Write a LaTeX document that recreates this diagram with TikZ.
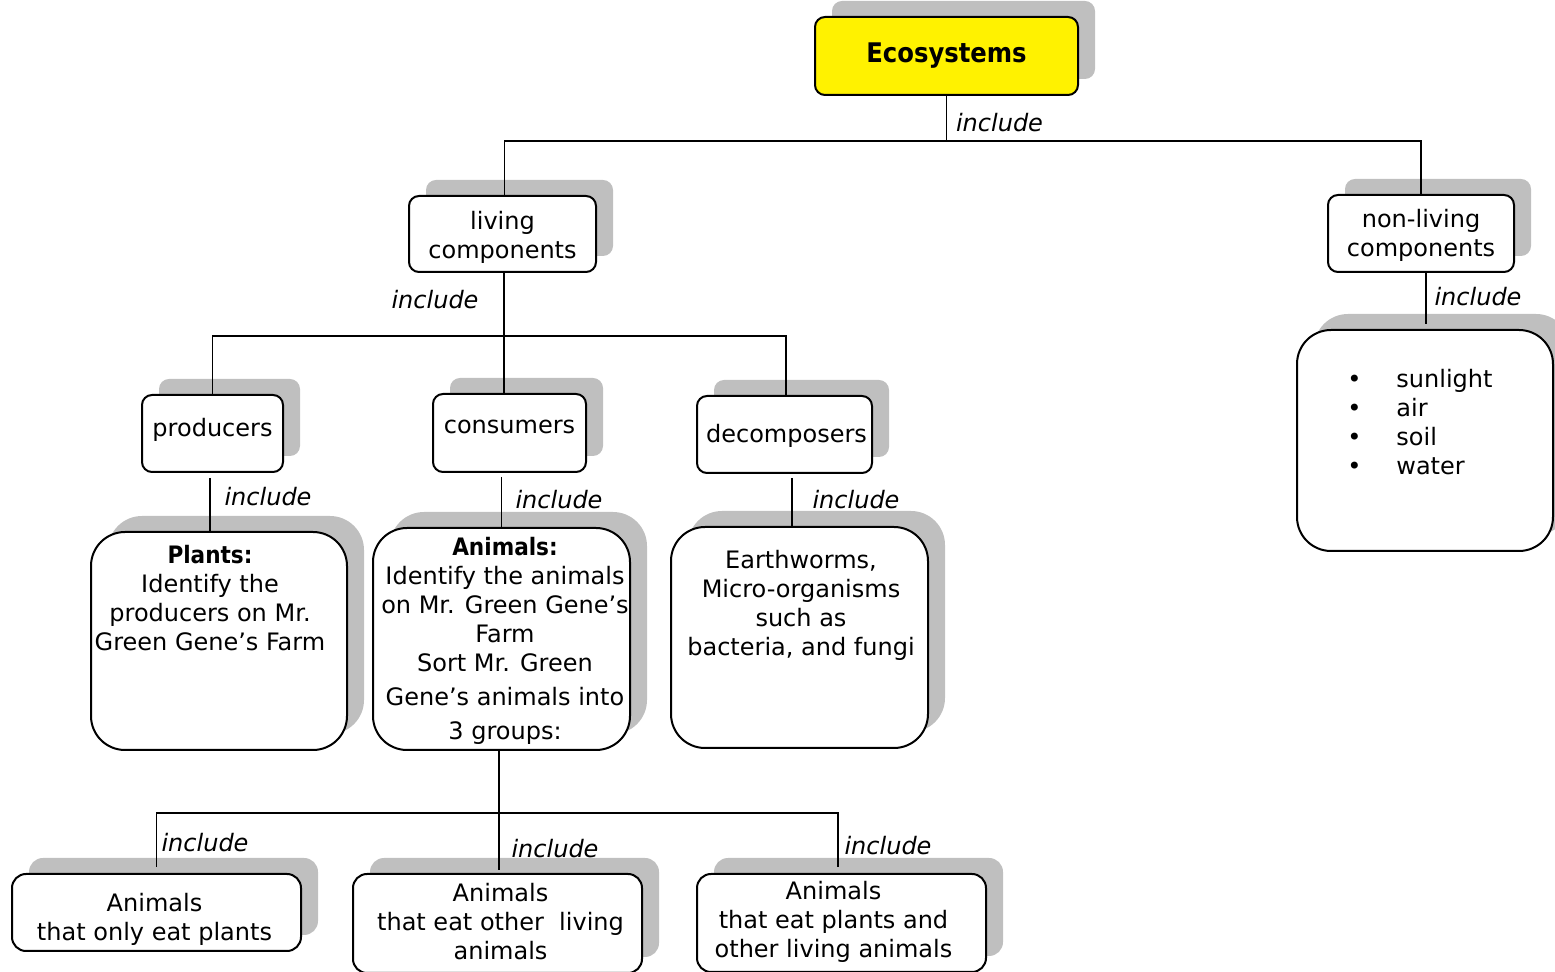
\documentclass[tikz,border=0pt]{standalone}
\usepackage{fontspec}
\setmainfont{DejaVu Sans}
\newfontfamily\condfont{DejaVu Sans Condensed}
\usetikzlibrary{shadows}
\begin{document}
\begin{tikzpicture}[x=0.5pt,y=-0.5pt,
  font=\fontsize{12pt}{14.5pt}\selectfont,
  grayshadow/.style={general shadow={fill=black!25, shadow xshift=8.5pt, shadow yshift=8pt}},
  box/.style={draw=black, line width=1pt, fill=white, rounded corners=5pt,
              grayshadow, align=center, inner sep=2pt},
  bigbox/.style={box, rounded corners=17pt},
  leafbox/.style={box, rounded corners=7pt},
  boxtext/.style={align=center, inner sep=0pt},
  conn/.style={line width=0.9pt},
  rel/.style={font=\fontsize{12pt}{14.5pt}\selectfont\itshape, inner sep=0pt},
  headfont/.style={font=\condfont\bfseries\fontsize{13.5pt}{16pt}\selectfont}
]
\useasboundingbox (0,0) rectangle (1555,972);

% ---- concept boxes ----
\node[box, fill=yellow, headfont, minimum width=131.5pt, minimum height=39pt] (eco) at (946.5,56) {Ecosystems};

\node[box, minimum width=93.5pt, minimum height=38pt,
      label={[boxtext, yshift=-1.5pt]center:{living\\components}}] (living) at (502.5,234) {};
\node[box, minimum width=93pt, minimum height=38.5pt,
      label={[boxtext, yshift=-1pt]center:{non-living\\components}}] (nonliving) at (1421,233.5) {};

\node[box, minimum width=70.5pt, minimum height=38.5pt,
      label={[boxtext, yshift=2pt]center:producers}] (producers) at (212.5,433.5) {};
\node[box, minimum width=76.5pt, minimum height=39pt,
      label={[boxtext, yshift=3pt]center:consumers}] (consumers) at (509.5,433) {};
\node[box, minimum width=87.5pt, minimum height=38.5pt,
      label={[boxtext, yshift=-0.5pt, xshift=1pt]center:decomposers}] (decomposers) at (784.5,434.5) {};

\node[bigbox, minimum width=128pt, minimum height=109pt] (plants) at (219,641) {};
\node[boxtext] (plantsText) at (210,598.5)
  {{\condfont\bfseries Plants:}\\Identify the\\producers on Mr.\\Green Gene’s Farm};

\node[bigbox, minimum width=128.5pt, minimum height=111pt] (animals) at (501.5,639) {};
\node[boxtext] (animalsText) at (505,641)
  {{\condfont\bfseries Animals:}\\Identify the animals\\on Mr. Green Gene’s\\Farm\\Sort Mr. Green\\[2.5pt]Gene’s animals into\\[2.5pt]3 groups:};

\node[bigbox, minimum width=128.5pt, minimum height=110.5pt] (worms) at (799.5,637.5) {};
\node[boxtext] (wormsText) at (801,605.5)
  {Earthworms,\\Micro-organisms\\such as\\bacteria, and fungi};

\node[bigbox, minimum width=128pt, minimum height=110.5pt] (abiotic) at (1425,440.5) {};
\node[inner sep=0pt, align=left, anchor=west] (abioticText) at (1347,422.5)
  {\makebox[24.5pt][l]{•}sunlight\\\makebox[24.5pt][l]{•}air\\\makebox[24.5pt][l]{•}soil\\\makebox[24.5pt][l]{•}water};

\node[leafbox, minimum width=144.5pt, minimum height=38.5pt,
      label={[boxtext, yshift=-3.5pt, xshift=-1pt]center:{Animals\\that only eat plants}}] (herb) at (156.5,912.5) {};
\node[leafbox, minimum width=144.5pt, minimum height=49.5pt,
      label={[boxtext, yshift=1pt, xshift=1.5pt]center:{Animals\\that eat other\ \ living\\animals}}] (carn) at (497.5,923.5) {};
\node[leafbox, minimum width=144.5pt, minimum height=49pt,
      label={[boxtext, yshift=0.5pt, xshift=-4pt]center:{Animals\\that eat plants and\\other living animals}}] (omni) at (841.5,923) {};

% ---- junction points ----
\coordinate (j0) at (946.5,141);
\coordinate (j1) at (504,336);
\coordinate (j2) at (499,813);

% ---- connectors ----
\draw[conn] (eco.south) -- (j0);
\draw[conn] ([xshift=1pt]living.north) |- (j0) -| (nonliving.north);

\draw[conn] ([xshift=0.75pt]living.south) -- (j1);
\draw[conn] (producers.north) |- (j1) -| ([xshift=0.75pt]decomposers.north);
\draw[conn] (j1) -- (j1 |- consumers.north);

\draw[conn, shorten <=2.5pt] ([xshift=-1.25pt]producers.south) -- ([xshift=-1.25pt]producers.south |- plants.north);
\draw[conn, shorten <=2pt] (animals.north |- consumers.south) -- (animals.north);
\draw[conn, shorten <=2pt] ([xshift=3.75pt]decomposers.south) -- ([xshift=3.75pt]decomposers.south |- worms.north);
\draw[conn, shorten >=2.5pt] ([xshift=2.5pt]nonliving.south) -- ([xshift=2.5pt]nonliving.south |- abiotic.north);

\draw[conn] ([xshift=-1.25pt]animals.south) -- (j2);
\draw[conn, shorten <=3pt, shorten >=3pt] (herb.north) |- (j2) -| ([xshift=-1.75pt]omni.north);
\draw[conn, shorten >=1.5pt] (j2) -- (j2 |- carn.north);

% ---- relation labels ----
\node[rel] (r0) at (999.5,123) {include};
\node[rel] (r1) at (435,300) {include};
\node[rel] (r2) at (268,497) {include};
\node[rel] (r3) at (559,500) {include};
\node[rel] (r4) at (856,500) {include};
\node[rel] (r5) at (1478,297) {include};
\node[rel] (r6) at (205,843) {include};
\node[rel] (r7) at (555,849) {include};
\node[rel] (r8) at (888,846) {include};
\end{tikzpicture}
\end{document}
